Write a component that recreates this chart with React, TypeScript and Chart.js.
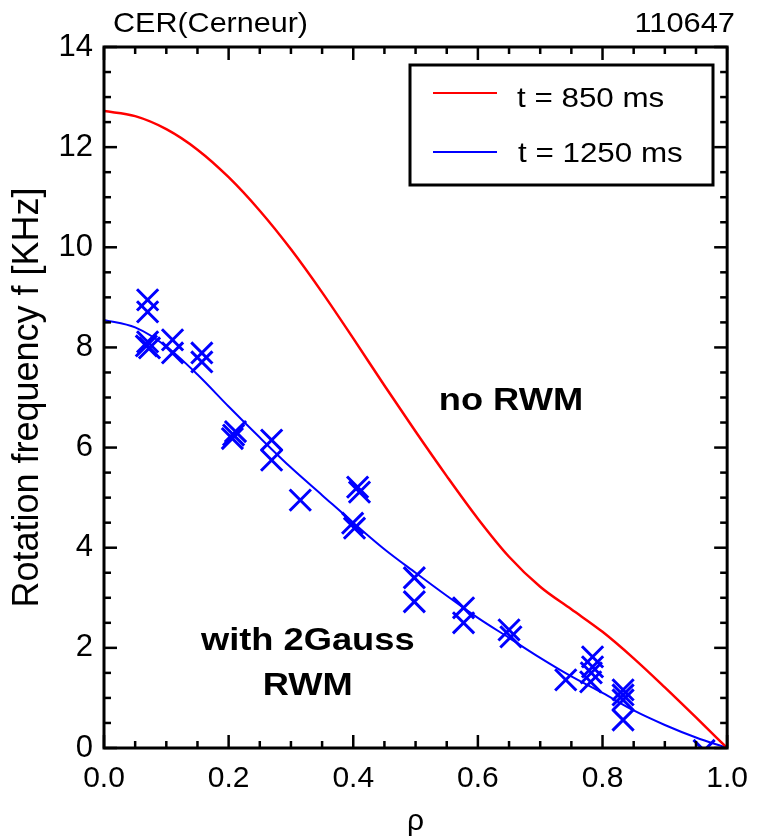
import React, { useEffect, useRef } from "react";
import { Chart, registerables } from "chart.js";

Chart.register(...registerables);

// ---- data ----
const rhoGrid = [0, 0.05, 0.1, 0.15, 0.2, 0.25, 0.3, 0.35, 0.4, 0.45, 0.5, 0.55, 0.6, 0.65, 0.7, 0.75, 0.8, 0.85, 0.9, 0.95, 1.0];
const f850 = [12.72, 12.62, 12.36, 11.95, 11.4, 10.73, 9.96, 9.1, 8.18, 7.24, 6.32, 5.43, 4.58, 3.82, 3.22, 2.77, 2.32, 1.79, 1.21, 0.61, 0];
const f1250Fit = [8.55, 8.4, 8.02, 7.46, 6.82, 6.2, 5.6, 5.05, 4.5, 3.97, 3.5, 3.04, 2.6, 2.2, 1.8, 1.43, 1.1, 0.75, 0.46, 0.21, 0];
const crossRho = [0.07, 0.07, 0.07, 0.073, 0.068, 0.11, 0.11, 0.157, 0.157, 0.208, 0.211, 0.206, 0.269, 0.269, 0.315, 0.399, 0.402, 0.407, 0.41, 0.498, 0.498, 0.577, 0.577, 0.65, 0.653, 0.741, 0.784, 0.784, 0.782, 0.781, 0.833, 0.833, 0.833, 0.833, 0.963];
const crossF = [8.95, 8.71, 8.11, 7.99, 8.03, 8.15, 7.89, 7.89, 7.71, 6.25, 6.32, 6.18, 6.15, 5.75, 4.95, 4.49, 4.39, 5.21, 5.11, 3.4, 2.92, 2.8, 2.5, 2.36, 2.22, 1.36, 1.82, 1.62, 1.5, 1.32, 1.16, 1.06, 0.96, 0.56, -0.05];
const xTickLabels = ["0.0", "0.2", "0.4", "0.6", "0.8", "1.0"];
const yTickLabels = ["0", "2", "4", "6", "8", "10", "12", "14"];
const seriesLabels = ["t = 850 ms", "t = 1250 ms"];
const titleLeft = "CER(Cerneur)";
const titleRight = "110647";
const noteNoRwm = { text: "no RWM", rho: 0.653, f: 6.75 };
const noteWith = [
  { text: "with 2Gauss", rho: 0.327, f: 1.96 },
  { text: "RWM", rho: 0.327, f: 1.06 },
];

const FONT = "'Liberation Sans', Arial, Helvetica, sans-serif";
const RED = "#ff0000";
const BLUE = "#0000ff";

function drawText(ctx: CanvasRenderingContext2D, text: string, x: number, y: number, font: string, align: CanvasTextAlign, sx: number) {
  ctx.save();
  ctx.translate(x, y);
  ctx.scale(sx, 1);
  ctx.font = font;
  ctx.fillStyle = "#000";
  ctx.textAlign = align;
  ctx.textBaseline = "alphabetic";
  ctx.fillText(text, 0, 0);
  ctx.restore();
}

const framePlugin = {
  id: "framePlugin",
  afterDatasetsDraw(chart: any) {
    const ctx: CanvasRenderingContext2D = chart.ctx;
    const { left, right, top, bottom } = chart.chartArea;
    const xs = chart.scales.x;
    const ys = chart.scales.y;
    ctx.save();
    ctx.strokeStyle = "#000";
    ctx.lineCap = "butt";
    const seg = (x1: number, y1: number, x2: number, y2: number) => {
      ctx.beginPath();
      ctx.moveTo(x1, y1);
      ctx.lineTo(x2, y2);
      ctx.stroke();
    };
    ctx.lineWidth = 2.5;
    for (let i = 0; i <= 20; i++) {
      const px = xs.getPixelForValue(i * 0.05);
      const len = i % 4 === 0 ? 13 : 7;
      seg(px, bottom, px, bottom - len);
      seg(px, top, px, top + len);
    }
    for (let i = 0; i <= 28; i++) {
      const py = ys.getPixelForValue(i * 0.5);
      const len = i % 4 === 0 ? 13 : 7;
      seg(left, py, left + len, py);
      seg(right, py, right - len, py);
    }
    ctx.lineWidth = 3;
    ctx.strokeRect(left, top, right - left, bottom - top);

    // legend box
    const bx = 410, by = 65, bw = 303, bh = 120;
    ctx.fillStyle = "#fff";
    ctx.fillRect(bx, by, bw, bh);
    ctx.lineWidth = 3;
    ctx.strokeStyle = "#000";
    ctx.strokeRect(bx, by, bw, bh);
    const ds = chart.data.datasets;
    const rows = [93, 152];
    const bases = [107, 162];
    const starts = [517, 518];
    for (let i = 0; i < 2; i++) {
      ctx.strokeStyle = ds[i].borderColor;
      ctx.lineWidth = 2;
      seg(433, rows[i], 497, rows[i]);
      drawText(ctx, ds[i].label, starts[i], bases[i], `28px ${FONT}`, "left", 1.12);
    }

    // titles
    drawText(ctx, titleLeft, 113, 32, `28px ${FONT}`, "left", 1.09);
    drawText(ctx, titleRight, 735, 32, `28px ${FONT}`, "right", 1.1);

    // annotations
    drawText(ctx, noteNoRwm.text, xs.getPixelForValue(noteNoRwm.rho), ys.getPixelForValue(noteNoRwm.f), `bold 31px ${FONT}`, "center", 1.17);
    for (const n of noteWith) {
      drawText(ctx, n.text, xs.getPixelForValue(n.rho), ys.getPixelForValue(n.f), `bold 31px ${FONT}`, "center", 1.17);
    }
    ctx.restore();
  },
};

export default function App() {
  const ref = useRef<HTMLCanvasElement | null>(null);
  useEffect(() => {
    document.body.style.margin = "0";
    const canvas = ref.current;
    if (!canvas) return;
    const chart = new Chart(canvas, {
      type: "line",
      data: {
        datasets: [
          {
            label: seriesLabels[0],
            data: rhoGrid.map((r, i) => ({ x: r, y: f850[i] })),
            borderColor: RED,
            borderWidth: 2.5,
            pointRadius: 0,
            cubicInterpolationMode: "monotone",
            fill: false,
          },
          {
            label: seriesLabels[1],
            data: rhoGrid.map((r, i) => ({ x: r, y: f1250Fit[i] })),
            borderColor: BLUE,
            borderWidth: 2,
            pointRadius: 0,
            cubicInterpolationMode: "monotone",
            fill: false,
          },
          {
            label: "data",
            type: "scatter",
            data: crossRho.map((r, i) => ({ x: r, y: crossF[i] })),
            borderColor: BLUE,
            backgroundColor: BLUE,
            pointStyle: "crossRot",
            pointRadius: 15,
            pointBorderWidth: 3,
            showLine: false,
          } as any,
        ],
      },
      options: {
        responsive: false,
        animation: false,
        events: [],
        layout: { padding: { left: 0, top: 47, right: 28, bottom: 0 } },
        plugins: { legend: { display: false }, tooltip: { enabled: false } },
        scales: {
          x: {
            type: "linear",
            min: 0,
            max: 1,
            border: { display: false },
            grid: { display: false, drawTicks: false },
            ticks: {
              stepSize: 0.2,
              padding: 13,
              color: "#000",
              font: { family: FONT, size: 30 },
              callback: (v: any) => xTickLabels[Math.round(Number(v) / 0.2)] ?? "",
            },
            title: {
              display: true,
              text: "ρ",
              color: "#000",
              font: { family: FONT, size: 30 },
              padding: { top: 0, bottom: 0 },
            },
            afterFit: (s: any) => {
              s.height = 92;
            },
          },
          y: {
            type: "linear",
            min: 0,
            max: 14,
            border: { display: false },
            grid: { display: false, drawTicks: false },
            ticks: {
              stepSize: 2,
              padding: 11,
              color: "#000",
              font: { family: FONT, size: 31 },
              callback: (v: any) => yTickLabels[Math.round(Number(v) / 2)] ?? "",
            },
            title: {
              display: true,
              text: "Rotation frequency f [KHz]",
              color: "#000",
              font: { family: FONT, size: 36 },
              padding: { top: 6, bottom: 0 },
            },
            afterFit: (s: any) => {
              s.width = 104;
            },
          },
        },
      } as any,
      plugins: [framePlugin],
    });
    return () => chart.destroy();
  }, []);
  return <canvas ref={ref} width={761} height={840} style={{ display: "block" }} />;
}
